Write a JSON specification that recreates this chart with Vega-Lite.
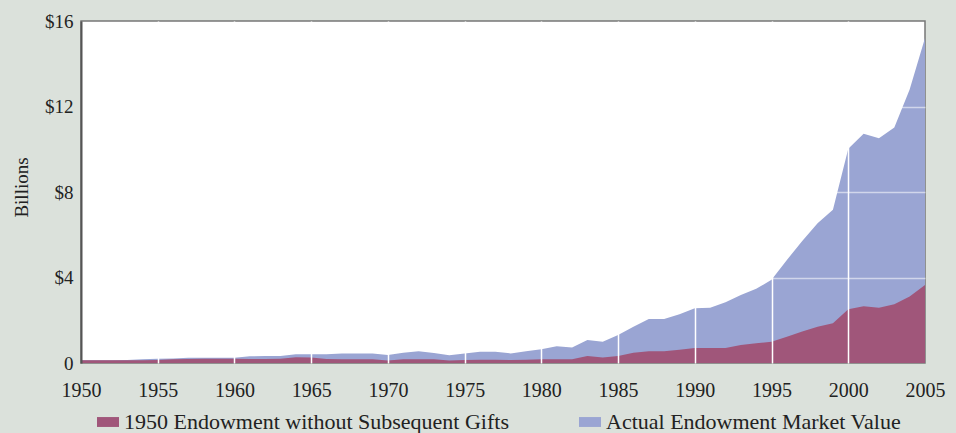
{
  "$schema": "https://vega.github.io/schema/vega-lite/v6.json",
  "width": 844,
  "height": 342,
  "autosize": {"type": "none"},
  "padding": {"left": 81, "top": 21, "right": 31, "bottom": 70},
  "background": "#dbe1db",
  "config": {
    "view": {"fill": "white", "stroke": "#777", "strokeWidth": 1.5},
    "font": "Liberation Serif"
  },
  "data": {
    "values": [
      {"year": 1950, "gift": 0.13, "actual": 0.13},
      {"year": 1951, "gift": 0.13, "actual": 0.13},
      {"year": 1952, "gift": 0.13, "actual": 0.13},
      {"year": 1953, "gift": 0.13, "actual": 0.14},
      {"year": 1954, "gift": 0.13, "actual": 0.17},
      {"year": 1955, "gift": 0.14, "actual": 0.20},
      {"year": 1956, "gift": 0.17, "actual": 0.21},
      {"year": 1957, "gift": 0.19, "actual": 0.25},
      {"year": 1958, "gift": 0.20, "actual": 0.25},
      {"year": 1959, "gift": 0.20, "actual": 0.25},
      {"year": 1960, "gift": 0.20, "actual": 0.25},
      {"year": 1961, "gift": 0.19, "actual": 0.31},
      {"year": 1962, "gift": 0.19, "actual": 0.33},
      {"year": 1963, "gift": 0.20, "actual": 0.33},
      {"year": 1964, "gift": 0.27, "actual": 0.41},
      {"year": 1965, "gift": 0.26, "actual": 0.41},
      {"year": 1966, "gift": 0.19, "actual": 0.41},
      {"year": 1967, "gift": 0.17, "actual": 0.45},
      {"year": 1968, "gift": 0.17, "actual": 0.45},
      {"year": 1969, "gift": 0.17, "actual": 0.44},
      {"year": 1970, "gift": 0.12, "actual": 0.37},
      {"year": 1971, "gift": 0.17, "actual": 0.48},
      {"year": 1972, "gift": 0.18, "actual": 0.55},
      {"year": 1973, "gift": 0.17, "actual": 0.47},
      {"year": 1974, "gift": 0.12, "actual": 0.36},
      {"year": 1975, "gift": 0.14, "actual": 0.45},
      {"year": 1976, "gift": 0.15, "actual": 0.53},
      {"year": 1977, "gift": 0.15, "actual": 0.53},
      {"year": 1978, "gift": 0.14, "actual": 0.45},
      {"year": 1979, "gift": 0.15, "actual": 0.55},
      {"year": 1980, "gift": 0.17, "actual": 0.64},
      {"year": 1981, "gift": 0.18, "actual": 0.78},
      {"year": 1982, "gift": 0.17, "actual": 0.72},
      {"year": 1983, "gift": 0.33, "actual": 1.08},
      {"year": 1984, "gift": 0.26, "actual": 1.00},
      {"year": 1985, "gift": 0.33, "actual": 1.31},
      {"year": 1986, "gift": 0.48, "actual": 1.70},
      {"year": 1987, "gift": 0.55, "actual": 2.06},
      {"year": 1988, "gift": 0.55, "actual": 2.06},
      {"year": 1989, "gift": 0.62, "actual": 2.28},
      {"year": 1990, "gift": 0.70, "actual": 2.56},
      {"year": 1991, "gift": 0.70, "actual": 2.58},
      {"year": 1992, "gift": 0.70, "actual": 2.84},
      {"year": 1993, "gift": 0.84, "actual": 3.18},
      {"year": 1994, "gift": 0.92, "actual": 3.47},
      {"year": 1995, "gift": 1.00, "actual": 3.89},
      {"year": 1996, "gift": 1.23, "actual": 4.82},
      {"year": 1997, "gift": 1.47, "actual": 5.71},
      {"year": 1998, "gift": 1.70, "actual": 6.54},
      {"year": 1999, "gift": 1.86, "actual": 7.17},
      {"year": 2000, "gift": 2.51, "actual": 10.02},
      {"year": 2001, "gift": 2.65, "actual": 10.73},
      {"year": 2002, "gift": 2.59, "actual": 10.52},
      {"year": 2003, "gift": 2.75, "actual": 11.02},
      {"year": 2004, "gift": 3.11, "actual": 12.79},
      {"year": 2005, "gift": 3.65, "actual": 15.20}
    ]
  },
  "encoding": {
    "x": {
      "field": "year",
      "type": "quantitative",
      "scale": {"domain": [1950, 2005], "nice": false, "zero": false},
      "axis": {
        "title": null,
        "values": [1950, 1955, 1960, 1965, 1970, 1975, 1980, 1985, 1990, 1995, 2000, 2005],
        "format": "d",
        "domain": false,
        "ticks": false,
        "zindex": 1,
        "grid": true,
        "gridColor": "white",
        "gridWidth": 1.5,
        "gridOpacity": {"condition": {"test": "datum.value === 1950 || datum.value === 2005", "value": 0}, "value": 1},
        "labelFont": "Liberation Serif",
        "labelFontSize": 20,
        "labelColor": "#222",
        "labelPadding": 17,
        "labelBaseline": "top",
        "labelFlush": false,
        "labelOverlap": false
      }
    }
  },
  "layer": [
    {
      "mark": {"type": "area", "opacity": 1},
      "encoding": {
        "y": {
          "field": "actual",
          "type": "quantitative",
          "scale": {"domain": [0, 16], "nice": false},
          "axis": {
            "title": "Billions",
            "values": [0, 4, 8, 12, 16],
            "labelExpr": "datum.value === 0 ? '0' : '$' + datum.value",
            "domain": true,
            "domainColor": "#555",
            "domainWidth": 2,
            "ticks": false,
            "zindex": 1,
            "grid": true,
            "gridColor": "white",
            "gridWidth": 1.5,
            "gridOpacity": {"condition": {"test": "datum.value === 0 || datum.value === 16", "value": 0}, "value": 0.55},
            "labelFont": "Liberation Serif",
            "labelFontSize": 19,
            "labelColor": "#222",
            "labelPadding": 8,
            "labelBaseline": "middle",
            "labelFlush": false,
            "titleFont": "Liberation Serif",
            "titleFontSize": 19,
            "titleFontWeight": "normal",
            "titleColor": "#222",
            "titleAngle": -90,
            "titleX": -60,
            "titleY": 166,
            "titleAlign": "center",
            "titleBaseline": "middle"
          }
        },
        "color": {
          "datum": "Actual Endowment Market Value",
          "type": "nominal",
          "scale": {
            "domain": ["1950 Endowment without Subsequent Gifts", "Actual Endowment Market Value"],
            "range": ["#a0567a", "#9aa5d3"]
          },
          "legend": {
            "title": null,
            "orient": "none",
            "direction": "horizontal",
            "legendX": 16,
            "legendY": 390,
            "padding": 0,
            "symbolType": "M-1,-0.45H1V0.45H-1Z",
            "symbolSize": 484,
            "symbolStrokeWidth": 0,
            "symbolOpacity": 1,
            "labelFont": "Liberation Serif",
            "labelFontSize": 22,
            "labelColor": "#222",
            "labelOffset": 5,
            "labelLimit": 600,
            "columnPadding": 70
          }
        }
      }
    },
    {
      "mark": {"type": "area", "opacity": 1},
      "encoding": {
        "y": {"field": "gift", "type": "quantitative"},
        "color": {"datum": "1950 Endowment without Subsequent Gifts", "type": "nominal"}
      }
    }
  ]
}
